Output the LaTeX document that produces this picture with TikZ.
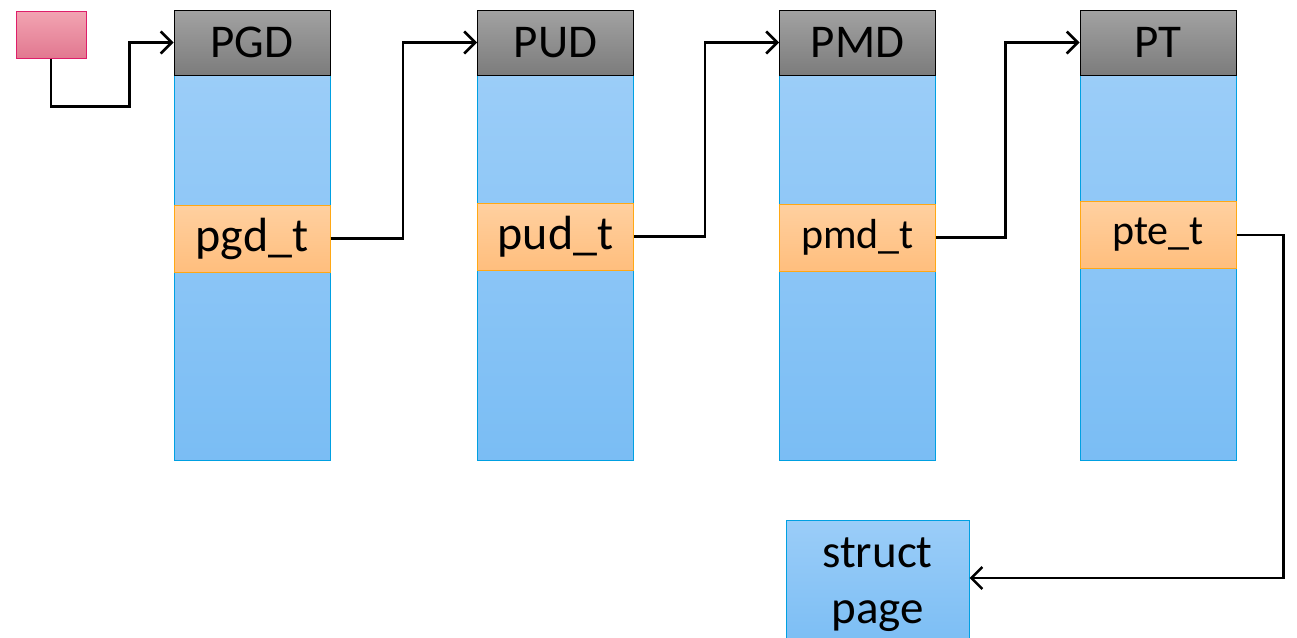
\documentclass[tikz,border=0pt]{standalone}
\usepackage{fontspec}
\setmainfont{Carlito}
\usepackage{xcolor}
\usepackage{tikz}
\usetikzlibrary{arrows.meta}

\definecolor{hdtop}{RGB}{162,162,162}
\definecolor{hdbot}{RGB}{124,124,124}
\definecolor{tbltop}{RGB}{155,205,248}
\definecolor{tblbot}{RGB}{122,189,244}
\definecolor{tblline}{RGB}{0,160,226}
\definecolor{enttop}{RGB}{255,208,160}
\definecolor{entbot}{RGB}{255,190,125}
\definecolor{entline}{RGB}{255,168,20}
\definecolor{ptrtop}{RGB}{242,164,178}
\definecolor{ptrbot}{RGB}{226,120,144}
\definecolor{ptrline}{RGB}{222,30,106}

\tikzset{
	hdbox/.style={draw=black, line width=1pt, top color=hdtop, bottom color=hdbot,
		minimum width=156pt, minimum height=65pt, inner sep=0pt, font=\fontsize{47}{50}\selectfont},
	tblbox/.style={draw=tblline, line width=1pt, top color=tbltop, bottom color=tblbot,
		minimum width=156pt, minimum height=385pt, inner sep=0pt},
	entbox/.style={draw=entline, line width=1pt, top color=enttop, bottom color=entbot,
		minimum width=156pt, minimum height=67pt, inner sep=0pt},
	link/.style={draw=black, line width=2.5pt, -{Straight Barb[length=11pt,width=22pt,line width=2.5pt]}}
}

\begin{document}
\begin{tikzpicture}[x=1pt,y=-1pt]
	\useasboundingbox (0,0) rectangle (1297,637);

	% pointer to the top level
	\node[draw=ptrline, line width=1pt, top color=ptrtop, bottom color=ptrbot,
		minimum width=70pt, minimum height=47pt, inner sep=0pt] (ptr) at (51,34.5) {};

	% PGD
	\node[tblbox] (pgd) at (252,267.5) {};
	\node[hdbox] (pgdh) at (252,42.5) {PGD};
	\node[entbox, font=\fontsize{48}{50}\selectfont] (pgdt) at (252,238.5) {pgd\_t};

	% PUD
	\node[tblbox] (pud) at (555.5,267.5) {};
	\node[hdbox] (pudh) at (555.5,42.5) {PUD};
	\node[entbox, font=\fontsize{48}{50}\selectfont] (pudt) at (555.5,236.5) {pud\_t};

	% PMD
	\node[tblbox] (pmd) at (857.5,267.5) {};
	\node[hdbox] (pmdh) at (857.5,42.5) {PMD};
	\node[entbox, font=\fontsize{42}{45}\selectfont] (pmdt) at (857.5,237.5) {pmd\_t};

	% PT
	\node[tblbox] (pt) at (1158,267.5) {};
	\node[hdbox] (pth) at (1158,42.5) {PT};
	\node[entbox, font=\fontsize{42}{45}\selectfont] (ptet) at (1158,235) {pte\_t};

	% the page frame
	\node[draw=tblline, line width=1pt, top color=tbltop, bottom color=tblbot,
		minimum width=183pt, minimum height=130pt, inner sep=0pt, align=center,
		font=\fontsize{47}{56}\selectfont] (page) at (877.5,585) {struct\\page};

	% walk
	\draw[link] (ptr.south) -- ++(0,48) -| ([xshift=-44pt]pgdh.west) -- (pgdh.west);
	\draw[link] (pgdt.east) -| ([xshift=-74pt]pudh.west) -- (pudh.west);
	\draw[link] (pudt.east) -| ([xshift=-74pt]pmdh.west) -- (pmdh.west);
	\draw[link] (pmdt.east) -| ([xshift=-74pt]pth.west) -- (pth.west);
	\draw[link] (ptet.east) -- ++(47,0) |- ([yshift=7pt]page.east);
\end{tikzpicture}
\end{document}
